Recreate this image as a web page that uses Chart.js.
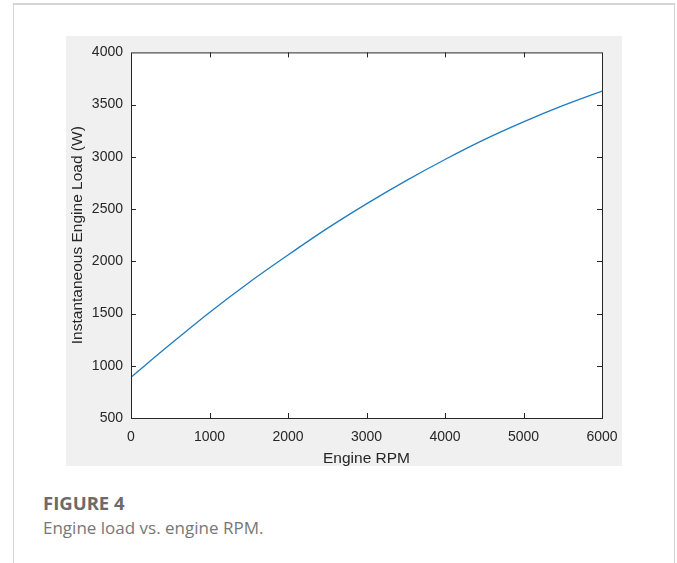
<!DOCTYPE html>
<html>
<head>
<meta charset="utf-8">
<script src="https://cdn.jsdelivr.net/npm/chart.js@4.4.1/dist/chart.umd.min.js"></script>
<style>
    body { margin: 0; background: #fff; width: 677px; height: 563px; overflow: hidden; position: relative; }
    .frame { position: absolute; left: 13px; top: 3px; width: 660px; height: 580px; border: 1px solid #d4d4d4; border-top-width: 2px; }
    .fig { position: absolute; left: 66px; top: 36px; width: 556px; height: 430px; background: #f0f0f0; }
    .fig canvas { position: absolute; left: 0; top: 0; }
    .cap-title { position: absolute; left: 43px; top: 494px; font: bold 18.5px/1 "Open Sans", sans-serif; color: #6b6b6b; }
    .cap-text { position: absolute; left: 43px; top: 519px; font: 17px/1 "Open Sans", sans-serif; color: #777; }
</style>
</head>
<body>
<div class="frame"></div>
<div class="fig"><canvas id="chart-load" width="556" height="430"></canvas></div>
<div class="cap-title">FIGURE 4</div>
<div class="cap-text">Engine load vs. engine RPM.</div>
<script>
// valores (RPM x carga em W)
const rpm = [0, 500, 1000, 1500, 2000, 2500, 3000, 3500, 4000, 4500, 5000, 5500, 6000];
const carga = [890, 1205, 1510, 1795, 2060, 2315, 2550, 2770, 2975, 3165, 3335, 3490, 3630];
const xTicks = [0, 1000, 2000, 3000, 4000, 5000, 6000];
const yTicks = [500, 1000, 1500, 2000, 2500, 3000, 3500, 4000];

const axisColor = '#262626';
const tickFont = { family: '"Liberation Sans", Arial, sans-serif', size: 14 };
const titleFont = { family: '"Liberation Sans", Arial, sans-serif', size: 15.5, lineHeight: 1 };

// caixa estilo MATLAB: fundo branco, borda e ticks para dentro nos 4 lados
const boxPlugin = {
    id: 'boxPlugin',
    beforeDraw(chart) {
        const { ctx, chartArea: a } = chart;
        ctx.save();
        ctx.fillStyle = '#fff';
        ctx.fillRect(a.left, a.top, a.right - a.left, a.bottom - a.top);
        ctx.restore();
    },
    afterDraw(chart) {
        const { ctx, chartArea: a, scales: { x, y } } = chart;
        ctx.save();
        ctx.strokeStyle = axisColor;
        ctx.lineWidth = 1;
        ctx.strokeRect(a.left + 0.5, a.top + 0.5, a.right - a.left, a.bottom - a.top);
        ctx.beginPath();
        xTicks.slice(1, -1).forEach(v => {
            const px = Math.round(x.getPixelForValue(v)) + 0.5;
            ctx.moveTo(px, a.bottom); ctx.lineTo(px, a.bottom - 5);
            ctx.moveTo(px, a.top); ctx.lineTo(px, a.top + 5);
        });
        yTicks.slice(1, -1).forEach(v => {
            const py = Math.round(y.getPixelForValue(v)) + 0.5;
            ctx.moveTo(a.left, py); ctx.lineTo(a.left + 5, py);
            ctx.moveTo(a.right, py); ctx.lineTo(a.right - 5, py);
        });
        ctx.stroke();
        ctx.restore();
    }
};

new Chart(document.getElementById('chart-load'), {
    type: 'line',
    data: {
        datasets: [{
            data: rpm.map((r, i) => ({ x: r, y: carga[i] })),
            borderColor: '#1f7cc0',
            borderWidth: 1.3,
            pointRadius: 0,
            fill: false,
            cubicInterpolationMode: 'monotone'
        }]
    },
    options: {
        responsive: false,
        animation: false,
        devicePixelRatio: 1,
        layout: { padding: { left: 0, right: 20, top: 13, bottom: 0 } },
        plugins: { legend: { display: false }, tooltip: { enabled: false } },
        scales: {
            x: {
                type: 'linear', min: 0, max: 6000,
                afterBuildTicks: s => { s.ticks = xTicks.map(v => ({ value: v })); },
                afterFit: s => { s.height = 48; },
                // ticks invisíveis, só para afastar os rótulos do eixo
                grid: { display: false, drawTicks: true, tickLength: 7 },
                border: { display: false },
                ticks: { color: axisColor, font: tickFont, padding: 4, maxRotation: 0, callback: v => String(v) },
                title: { display: true, text: 'Engine RPM', color: axisColor, font: titleFont, padding: { top: 0, bottom: 0 } }
            },
            y: {
                type: 'linear', min: 500, max: 4000,
                afterBuildTicks: s => { s.ticks = yTicks.map(v => ({ value: v })); },
                afterFit: s => { s.width = 65; },
                grid: { display: false, drawTicks: false },
                border: { display: false },
                ticks: { color: axisColor, font: tickFont, padding: 8, callback: v => String(v) },
                title: { display: true, text: 'Instantaneous Engine Load (W)', color: axisColor, font: titleFont, padding: { top: 4, bottom: 0 } }
            }
        }
    },
    plugins: [boxPlugin]
});
</script>
</body>
</html>
